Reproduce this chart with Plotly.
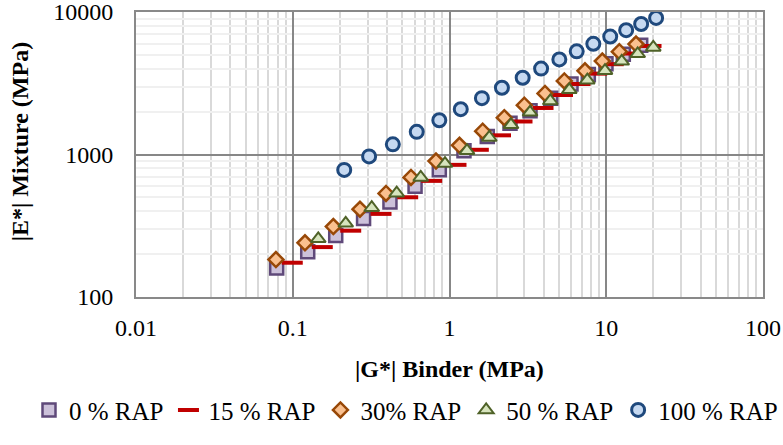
import plotly.graph_objects as go

# |G*| binder (MPa) and |E*| mixture (MPa)
g_0 = [0.079, 0.1246, 0.188, 0.283, 0.417, 0.603, 0.861, 1.237, 1.742, 2.432, 3.264, 4.422, 5.959, 7.685, 9.96, 12.85, 16.59]
e_0 = [160, 208, 270, 355, 464, 598, 783, 1063, 1336, 1654, 2026, 2485, 3124, 3638, 4342, 5058, 5838]

g_15 = [0.0993, 0.1543, 0.2343, 0.3656, 0.5411, 0.770, 1.100, 1.527, 2.115, 2.901, 3.950, 5.259, 6.800, 8.693, 11.09, 14.54, 19.30]
e_15 = [174, 224, 292, 383, 501, 653, 846, 1079, 1363, 1705, 2121, 2614, 3124, 3694, 4303, 5112, 5776]

g_30 = [0.0781, 0.1197, 0.1815, 0.2685, 0.3935, 0.568, 0.820, 1.158, 1.628, 2.237, 3.001, 4.068, 5.400, 7.318, 9.436, 12.12, 15.48]
e_30 = [183, 240, 312, 413, 533, 690, 899, 1159, 1457, 1813, 2220, 2683, 3285, 3868, 4525, 5270, 5955]

g_50 = [0.1455, 0.2177, 0.3191, 0.4604, 0.6553, 0.936, 1.293, 1.794, 2.468, 3.264, 4.397, 5.812, 7.572, 9.817, 12.55, 15.87, 19.96]
e_50 = [256, 329, 423, 535, 690, 863, 1063, 1316, 1616, 1977, 2374, 2842, 3325, 3874, 4511, 5089, 5646]

g_100 = [0.213, 0.307, 0.435, 0.618, 0.861, 1.18, 1.61, 2.16, 2.93, 3.84, 5.02, 6.48, 8.27, 10.6, 13.4, 16.7, 20.8]
e_100 = [780, 970, 1178, 1442, 1740, 2080, 2486, 2940, 3455, 4006, 4645, 5293, 5980, 6725, 7451, 8240, 9084]

series_names = ["0 % RAP", "15 % RAP", "30% RAP", "50 % RAP", "100 % RAP"]

x_title = "<b>|G*| Binder (MPa)</b>"
y_title = "<b>|E*| Mixture (MPa)</b>"

x_ticks = [0.01, 0.1, 1, 10, 100]
x_tick_text = ["0.01", "0.1", "1", "10", "100"]
y_ticks = [100, 1000, 10000]
y_tick_text = ["100", "1000", "10000"]

x_minor = [k * 10.0 ** d for d in range(-2, 2) for k in range(2, 10)]
y_minor = [k * 10.0 ** d for d in range(2, 4) for k in range(2, 10)]

FONT = "Liberation Serif, Times New Roman, serif"

fig = go.Figure()
fig.add_trace(go.Scatter(
    x=g_0, y=e_0, mode="markers", name=series_names[0],
    marker=dict(symbol="square", size=13, color="#CCC1DA",
                line=dict(color="#5F497A", width=2.5))))
fig.add_trace(go.Scatter(
    x=g_15, y=e_15, mode="markers", name=series_names[1],
    marker=dict(symbol="line-ew", size=15, color="#C00000",
                line=dict(color="#C00000", width=4))))
fig.add_trace(go.Scatter(
    x=g_30, y=e_30, mode="markers", name=series_names[2],
    marker=dict(symbol="diamond", size=11.5, color="#FAC08F",
                line=dict(color="#984807", width=2.5))))
fig.add_trace(go.Scatter(
    x=g_50, y=e_50, mode="markers", name=series_names[3],
    marker=dict(symbol="triangle-up", size=13, color="#D7E4BD",
                line=dict(color="#4F6228", width=2))))
fig.add_trace(go.Scatter(
    x=g_100, y=e_100, mode="markers", name=series_names[4],
    marker=dict(symbol="circle", size=13, color="#C6D9F1",
                line=dict(color="#1F497D", width=3))))

axis_common = dict(
    type="log",
    showline=True, mirror=True, linecolor="#898989", linewidth=2,
    showgrid=True, gridcolor="#878787", gridwidth=1.5,
    zeroline=False, ticks="", automargin=False,
    ticklabeloverflow="allow",
    tickfont=dict(family=FONT, size=24, color="black"),
)

fig.update_xaxes(
    **axis_common,
    range=[-2, 2], tickmode="array", tickvals=x_ticks, ticktext=x_tick_text,
    ticklabelstandoff=8,
    minor=dict(tickvals=x_minor, showgrid=True, gridcolor="#D9D9D9", gridwidth=2, ticks=""),
)
fig.update_yaxes(
    **axis_common,
    range=[2, 4], tickmode="array", tickvals=y_ticks, ticktext=y_tick_text,
    ticklabelstandoff=16,
    minor=dict(tickvals=y_minor, showgrid=True, gridcolor="#F0F0F0", gridwidth=2, ticks=""),
)

fig.add_annotation(text=x_title, xref="paper", yref="paper", x=0.5, y=-0.252,
                   xanchor="center", yanchor="middle", showarrow=False,
                   font=dict(family=FONT, size=24, color="black"))
fig.add_annotation(text=y_title, xref="paper", yref="paper", x=-0.185, y=0.543,
                   xanchor="center", yanchor="middle", showarrow=False, textangle=-90,
                   font=dict(family=FONT, size=24, color="black"))

fig.update_layout(
    width=783, height=445,
    margin=dict(l=136, r=20, t=12, b=131),
    paper_bgcolor="white", plot_bgcolor="white",
    font=dict(family=FONT, size=24, color="black"),
    hovermode=False,
    showlegend=True,
    legend=dict(orientation="h", x=-0.1659, xanchor="left", y=-0.397, yanchor="middle",
                font=dict(family=FONT, size=25, color="black"),
                bgcolor="rgba(0,0,0,0)", borderwidth=0, tracegroupgap=0),
)

fig.write_html("out.html",
               config=dict(displayModeBar=False),
               post_script="document.body.style.margin='0px';document.body.style.overflow='hidden';")
